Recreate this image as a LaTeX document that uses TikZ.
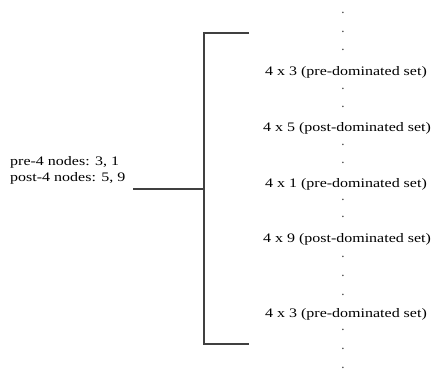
\documentclass[tikz,border=0pt]{standalone}
\usepackage{fontspec}
\setmainfont{Liberation Serif}
\begin{document}
\begin{tikzpicture}[x=1bp,y=-1bp,
  txt/.style={font=\fontsize{13bp}{16bp}\selectfont, inner sep=0pt, xscale=1.23, text=black},
  dotn/.style={font=\fontsize{13bp}{16bp}\selectfont, inner sep=0pt, anchor=base, text=black!80},
  brk/.style={draw=black!75, line width=1.3bp}]
\useasboundingbox (0,0) rectangle (433,371);
% left label
\node[txt, anchor=base west, align=left] (lbl) at (10,181) {pre-4 nodes: 3, 1\\post-4 nodes: 5, 9};
% bracket
\coordinate (tl) at (204,33);
\coordinate (tr) at (249,33);
\coordinate (bl) at (204,344);
\coordinate (br) at (249,344);
\coordinate (mid) at (204,189);
\coordinate (lin) at (133,189);
\draw[brk] (tr) -- (tl) -- (bl) -- (br);
\draw[brk] (lin) -- (mid);
% entries
\node[txt, anchor=base] (e1) at (346,75) {4 x 3 (pre-dominated set)};
\node[txt, anchor=base] (e2) at (347,131) {4 x 5 (post-dominated set)};
\node[txt, anchor=base] (e3) at (346,187) {4 x 1 (pre-dominated set)};
\node[txt, anchor=base] (e4) at (347,242) {4 x 9 (post-dominated set)};
\node[txt, anchor=base] (e5) at (346,317) {4 x 3 (pre-dominated set)};
% dots
\foreach \y [count=\i] in {13,32,50,89,107,145,163,200,217,257,276,295,330,349,368}
  \node[dotn] (d\i) at (343,\y+0.8) {.};
\end{tikzpicture}
\end{document}
